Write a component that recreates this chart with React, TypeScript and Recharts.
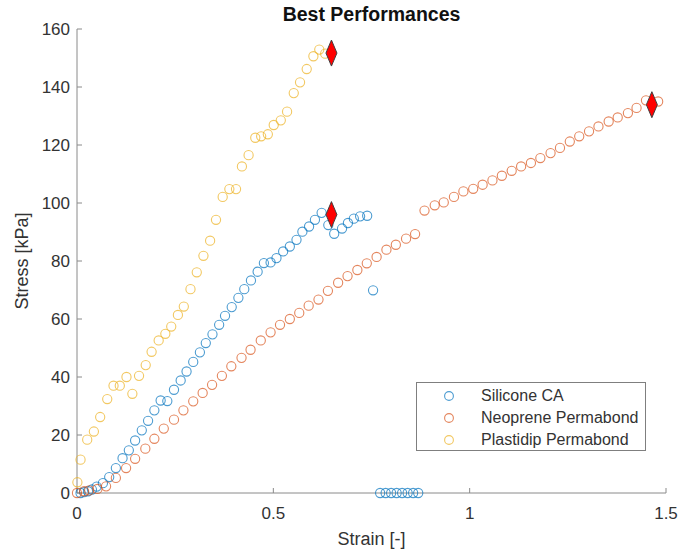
import React from 'react';
import { ScatterChart, Scatter, XAxis, YAxis } from 'recharts';

// Silicone CA
const siliconeStrain = [
  0.009, 0.018, 0.028, 0.038, 0.05, 0.066, 0.082, 0.099, 0.116, 0.132, 0.148, 0.165, 0.181, 0.197,
  0.213, 0.23, 0.247, 0.264, 0.279, 0.296, 0.313, 0.328, 0.345, 0.362, 0.377, 0.394, 0.411, 0.426,
  0.443, 0.46, 0.476, 0.493, 0.508, 0.525, 0.542, 0.559, 0.574, 0.591, 0.606, 0.623, 0.64, 0.655,
  0.675, 0.69, 0.705, 0.721, 0.739, 0.754, 0.772, 0.786, 0.8, 0.814, 0.828, 0.842, 0.856, 0.869,
];
const siliconeStress = [
  0, 0.3, 0.6, 1.2, 2.2, 3.4, 5.5, 8.6, 12, 14.7, 18.1, 21.6, 24.9, 28.5,
  31.9, 31.7, 35.6, 38.8, 41.9, 45.2, 48.5, 51.7, 54.7, 58, 61.1, 64.1, 67.3, 70.3,
  73.3, 76.3, 79.3, 79.5, 81, 83.3, 85, 87.3, 90.1, 91.9, 94.2, 96.6, 92.4, 89.4,
  91.2, 93.1, 94.6, 95.4, 95.6, 69.9, 0, 0, 0, 0, 0, 0, 0, 0,
];

// Neoprene Permabond
const neopreneStrain = [
  0, 0.018, 0.031, 0.052, 0.074, 0.099, 0.125, 0.148, 0.174, 0.197, 0.221, 0.247, 0.271, 0.296,
  0.32, 0.344, 0.369, 0.393, 0.419, 0.442, 0.468, 0.493, 0.517, 0.542, 0.566, 0.59, 0.615, 0.639,
  0.665, 0.689, 0.714, 0.738, 0.763, 0.788, 0.812, 0.838, 0.861, 0.885, 0.911, 0.934, 0.96, 0.984,
  1.009, 1.033, 1.058, 1.082, 1.107, 1.131, 1.156, 1.18, 1.206, 1.23, 1.255, 1.279, 1.304, 1.328,
  1.354, 1.377, 1.403, 1.425, 1.449, 1.48,
];
const neopreneStress = [
  0, 0.6, 0.9, 1.4, 2.3, 5.2, 8.6, 11.8, 15.3, 18.7, 22.2, 25.3, 28.5, 31.6,
  34.5, 37.3, 40.4, 43.7, 46.6, 49.4, 52.6, 55.4, 58, 60, 62.1, 64.6, 66.7, 69.7,
  72.5, 74.8, 76.9, 79.2, 81.4, 83.9, 85.6, 87.7, 89.3, 97.4, 99.2, 100.2, 102.1, 104,
  104.9, 106.3, 107.8, 109.4, 111.1, 112.6, 113.8, 115.5, 117.2, 119, 121.2, 123, 124.7, 126.4,
  128.1, 129.5, 131, 132.8, 135.4, 135,
];

// Plastidip Permabond
const plastidipStrain = [
  0.001, 0.009, 0.026, 0.043, 0.059, 0.077, 0.093, 0.109, 0.126, 0.141, 0.158, 0.175, 0.19, 0.208,
  0.225, 0.24, 0.257, 0.272, 0.289, 0.305, 0.322, 0.339, 0.354, 0.371, 0.388, 0.405, 0.42, 0.437,
  0.454, 0.469, 0.486, 0.501, 0.519, 0.535, 0.552, 0.568, 0.585, 0.602, 0.617, 0.632,
];
const plastidipStress = [
  3.7, 11.5, 18.4, 21.2, 26.2, 32.4, 37, 37, 40, 34.2, 40.4, 44.1, 48.7, 52.6,
  54.9, 57.4, 61.4, 64.3, 70.3, 76.1, 81.8, 87, 94.2, 102.1, 104.8, 104.8, 112.6, 116.5,
  122.5, 123, 123.7, 126.9, 128.5, 131.5, 137.9, 141.6, 146.2, 150.6, 152.9, 151.5,
];

// peak markers (red diamonds)
const peakStrain = [0.648, 0.648, 1.464];
const peakStress = [96, 151.7, 133.9];

const seriesNames = ['Silicone CA', 'Neoprene Permabond', 'Plastidip Permabond'];
const seriesColors = ['#0072BD', '#D95319', '#EDB120'];

const xTicks = [0, 0.5, 1, 1.5];
const yTicks = [0, 20, 40, 60, 80, 100, 120, 140, 160];

const toPoints = (xs: number[], ys: number[]) => xs.map((x, i) => ({ x, y: ys[i] }));

const silicone = toPoints(siliconeStrain, siliconeStress);
const neoprene = toPoints(neopreneStrain, neopreneStress);
const plastidip = toPoints(plastidipStrain, plastidipStress);
const peaks = toPoints(peakStrain, peakStress);

const FONT = '"Liberation Sans", Arial, Helvetica, sans-serif';
const AXIS = '#8a8a8a';
const TEXT = '#333333';

const ring = (color: string) => (props: any) => (
  <circle
    cx={props.cx}
    cy={props.cy}
    r={4.6}
    fill="none"
    stroke={color}
    strokeOpacity={0.7}
    strokeWidth={1.1}
  />
);

const diamond = (props: any) => {
  const { cx, cy } = props;
  return (
    <polygon
      points={`${cx},${cy - 13} ${cx + 5.5},${cy} ${cx},${cy + 13} ${cx - 5.5},${cy}`}
      fill="#ff0000"
      stroke="#404040"
      strokeWidth={1}
    />
  );
};

export default function App() {
  return (
    <div
      style={{
        position: 'absolute',
        left: 0,
        top: 0,
        width: 694,
        height: 558,
        background: '#fff',
        fontFamily: FONT,
      }}
    >
      <ScatterChart
        width={694}
        height={558}
        margin={{ top: 29, right: 28, bottom: 25, left: 0 }}
      >
        <XAxis
          type="number"
          dataKey="x"
          domain={[0, 1.5]}
          ticks={xTicks}
          height={40}
          stroke={AXIS}
          tickSize={-5}
          tickMargin={19}
          tick={{ fill: TEXT, fontSize: 17, fontFamily: FONT }}
        />
        <YAxis
          type="number"
          dataKey="y"
          domain={[0, 160]}
          ticks={yTicks}
          width={77}
          stroke={AXIS}
          tickSize={-5}
          tickMargin={12}
          tick={{ fill: TEXT, fontSize: 17, fontFamily: FONT }}
        />
        <Scatter name={seriesNames[0]} data={silicone} shape={ring(seriesColors[0])} isAnimationActive={false} />
        <Scatter name={seriesNames[1]} data={neoprene} shape={ring(seriesColors[1])} isAnimationActive={false} />
        <Scatter name={seriesNames[2]} data={plastidip} shape={ring(seriesColors[2])} isAnimationActive={false} />
        <Scatter name="peaks" data={peaks} shape={diamond} legendType="none" isAnimationActive={false} />
      </ScatterChart>

      {/* title */}
      <div
        style={{
          position: 'absolute',
          left: 77,
          width: 589,
          top: 3,
          textAlign: 'center',
          fontWeight: 'bold',
          fontSize: 19.5,
          color: '#111',
        }}
      >
        Best Performances
      </div>

      {/* axis labels */}
      <div
        style={{
          position: 'absolute',
          left: 77,
          width: 589,
          top: 529,
          textAlign: 'center',
          fontSize: 18,
          color: TEXT,
        }}
      >
        Strain [-]
      </div>
      <div
        style={{
          position: 'absolute',
          left: 22,
          top: 261,
          transform: 'translate(-50%, -50%) rotate(-90deg)',
          whiteSpace: 'nowrap',
          fontSize: 18,
          color: TEXT,
        }}
      >
        Stress [kPa]
      </div>

      {/* legend */}
      <div
        style={{
          position: 'absolute',
          left: 416,
          top: 382,
          width: 228,
          height: 65,
          border: '1px solid #7f7f7f',
          background: '#fff',
          paddingTop: 2,
          boxSizing: 'content-box',
        }}
      >
        {seriesNames.map((name, i) => (
          <div key={name} style={{ height: 22, display: 'flex', alignItems: 'center' }}>
            <svg width={64} height={22}>
              <circle
                cx={32}
                cy={11}
                r={4.4}
                fill="none"
                stroke={seriesColors[i]}
                strokeOpacity={0.7}
                strokeWidth={1.1}
              />
            </svg>
            <span style={{ fontSize: 16, color: TEXT }}>{name}</span>
          </div>
        ))}
      </div>
    </div>
  );
}
